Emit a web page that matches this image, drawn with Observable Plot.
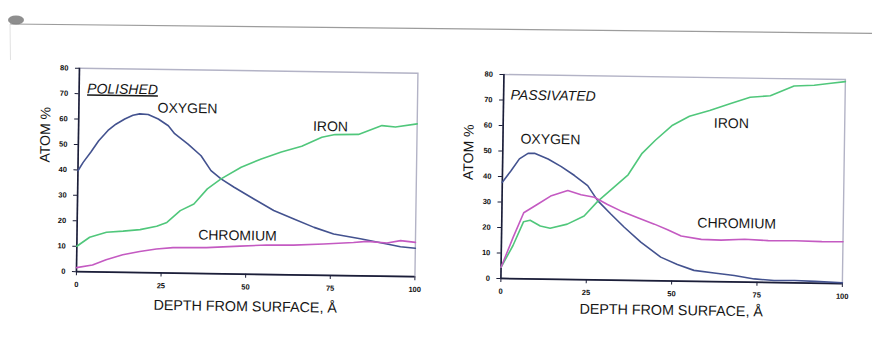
<!DOCTYPE html>
<html><head><meta charset="utf-8">
<script src="https://cdn.jsdelivr.net/npm/d3@7"></script>
<script src="https://cdn.jsdelivr.net/npm/@observablehq/plot@0.6"></script>
<style>
html,body{margin:0;padding:0;background:#fff;}
#page{position:relative;width:872px;height:340px;overflow:hidden;background:#fff;font-family:"Liberation Sans",Arial,sans-serif;}
#scan{position:absolute;left:0;top:0;}
#charts{position:absolute;left:0;top:0;width:872px;height:340px;transform:rotate(0.85deg);transform-origin:436px 170px;}
#charts svg{position:absolute;top:0;}
</style></head><body>
<div id="page">
<svg id="scan" width="872" height="340">
  <line x1="10" y1="24" x2="872" y2="33.3" stroke="#9c9c9c" stroke-width="1.2"/>
  <line x1="10" y1="24" x2="10.5" y2="60" stroke="#e2e2e2" stroke-width="1"/>
  <ellipse cx="16" cy="20" rx="8" ry="4.5" fill="#7a7a7a" opacity="0.85"/>
</svg>
<div id="charts"></div>
</div>
<script>
// ---- data (depth Å, atom %) ----
const xTicks = [0, 25, 50, 75, 100];
const yTicks = [0, 10, 20, 30, 40, 50, 60, 70, 80];

const polishedOxygen = [[0,39.7],[1.5,43],[3.75,47.1],[6,51.6],[8.7,55.7],[11,58.2],[13.6,60.3],[16,61.8],[18,62.4],[20.5,62.2],[23.5,60.5],[26.5,57.9],[28.4,54.8],[32.4,50.8],[36.3,46.3],[39.3,40.5],[42.3,37.3],[46.2,34.1],[52.1,29.6],[58,25.2],[64,22],[70,18.8],[75.8,16.3],[83.7,14.6],[91.6,12.7],[95.6,11.7],[100,11.2]];
const polishedIron = [[0,10],[3.75,13.6],[8.7,15.7],[13.6,16.2],[18.6,16.9],[23.5,18.3],[26.5,19.9],[30.4,24.6],[34.4,27.3],[38.3,33.3],[42.3,37.3],[48.2,42],[54.1,45.4],[60,48.2],[66,50.6],[71.9,54.3],[75.8,55.4],[82.7,55.6],[89.6,59.2],[93.6,58.7],[100,60.1]];
const polishedChromium = [[0,1.6],[4.7,2.7],[8.7,4.9],[13.6,6.9],[18.6,8.3],[23.5,9.4],[28.4,10],[38.3,10.2],[48.2,11],[56,11.6],[64,11.7],[72.9,12.3],[81.7,13.1],[85.7,13.6],[91.6,13.1],[95.6,14.1],[100,13.5]];

const passivatedOxygen = [[0,37.7],[2.5,42.3],[4.9,47],[7.4,49.2],[9.3,49.3],[13.3,47.1],[17.2,44.2],[21.1,40.8],[25,36.9],[28,31.1],[31.9,25.9],[35.9,20.8],[40.8,15.1],[46.7,9.3],[51.6,6.5],[56.5,4.3],[62.4,3.4],[68.3,2.5],[74.2,1.3],[80,0.8],[86,0.9],[92,0.7],[100,0.3]];
const passivatedIron = [[0,4.4],[3.4,13],[6.4,22.4],[8.3,23],[11.3,20.8],[14.2,20],[19.2,21.7],[24.1,25],[28,30.8],[31.9,35.5],[36.8,41.4],[40.8,49.9],[44.7,55.2],[49.6,61.1],[54.5,64.7],[60.4,67.1],[66.3,69.8],[72.2,72.5],[78.1,73.2],[85,77.2],[90.9,77.6],[95.8,78.5],[100,79.2]];
const passivatedChromium = [[0,4.4],[3.4,16.2],[6.4,25.9],[10.3,29.2],[14.2,32.6],[19.2,34.9],[23.1,33.3],[27,32.4],[30.9,29.6],[34.8,27.2],[39.8,24.6],[44.7,22.2],[48.6,20.1],[52.6,17.7],[58.5,16.5],[64.3,16.3],[71.2,16.8],[78.1,16.4],[86,16.5],[93.8,16.3],[100,16.4]];

const panelTitles = ["POLISHED", "PASSIVATED"];
const elementNames = ["OXYGEN", "IRON", "CHROMIUM"];
const yLabel = "ATOM %";
const xLabel = "DEPTH FROM SURFACE, Å";

// ---- styles ----
const colors = {OXYGEN: "#43528f", IRON: "#50c77b", CHROMIUM: "#c45ac2"};
const font = "'Liberation Sans', Arial, sans-serif";
const axisColor = "#1b1e38";

function panel(o) {
  const series = [o.oxygen, o.iron, o.chromium];
  const svg = Plot.plot({
    width: o.width, height: 340,
    marginLeft: o.ml, marginRight: o.mr, marginTop: 73, marginBottom: o.mb,
    x: {domain: [0, 100]},
    y: {domain: [0, 80]},
    style: {fontFamily: font, background: "transparent", overflow: "visible", color: "#111"},
    marks: [
      Plot.frame({stroke: "#b3b3c6", strokeWidth: 1.4}),
      Plot.axisY({ticks: yTicks, tickSize: 4, tickPadding: 7, fontSize: 7.5, fontWeight: "bold", label: null, stroke: axisColor}),
      Plot.axisX({ticks: xTicks, tickSize: 4, tickPadding: 6, fontSize: 7.5, fontWeight: "bold", label: null, stroke: axisColor}),
      Plot.ruleX([0], {stroke: axisColor, strokeWidth: 1.6}),
      Plot.ruleY([0], {stroke: axisColor, strokeWidth: 1.8}),
      ...series.map((s, i) => Plot.line(s, {x: d => d[0], y: d => d[1], stroke: colors[elementNames[i]], strokeWidth: 1.6})),
      ...elementNames.map((n, i) => Plot.text([n], {x: o.labelPos[i][0], y: o.labelPos[i][1], fontSize: 14, fill: "#161616"})),
      Plot.text([o.title], {frameAnchor: "top-left", dx: o.titleDx, dy: 15, textAnchor: "start", fontSize: 14, fontStyle: "italic", fill: "#161616"}),
      Plot.text([yLabel], {frameAnchor: "left", rotate: -90, dx: o.yDx, dy: o.yDy, fontSize: 14, fill: "#161616"}),
      Plot.text([xLabel], {frameAnchor: "bottom", dy: o.xDy, fontSize: 14.3, fill: "#161616"})
    ]
  });
  if (o.underline) {
    d3.select(svg).selectAll("text").filter(function () { return this.textContent === o.title; })
      .style("text-decoration", "underline");
  }
  svg.style.left = o.left + "px";
  return svg;
}

const charts = document.getElementById("charts");
charts.appendChild(panel({
  title: panelTitles[0], underline: true,
  oxygen: polishedOxygen, iron: polishedIron, chromium: polishedChromium,
  width: 440, left: 0, ml: 77.5, mr: 24, mb: 63.5,
  labelPos: [[32.1, 64.8], [74.4, 58.5], [47.4, 15.1]],
  titleDx: 8, yDx: -33, yDy: -7, xDy: 37
}));
charts.appendChild(panel({
  title: panelTitles[1], underline: false,
  oxygen: passivatedOxygen, iron: passivatedIron, chromium: passivatedChromium,
  width: 432, left: 440, ml: 62, mr: 28.5, mb: 63,
  labelPos: [[13.9, 54.8], [66.8, 62.1], [68.8, 22.9]],
  titleDx: 7, yDx: -34, yDy: 4, xDy: 34
}));
</script>
</body></html>
